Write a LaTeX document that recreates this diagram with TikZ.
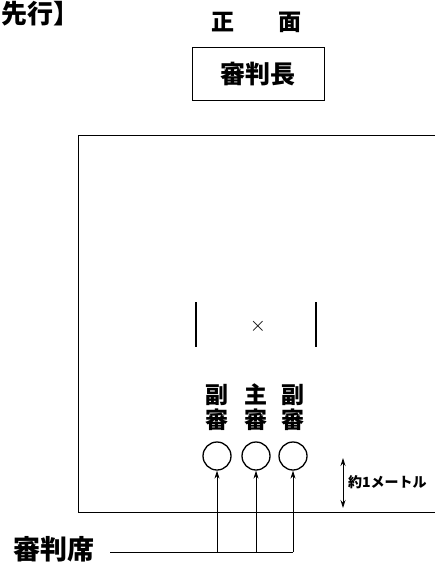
\documentclass[tikz,border=0pt]{standalone}
\usepackage{fontspec}
\newfontfamily\cjk{Noto Sans CJK JP}
\usetikzlibrary{arrows.meta}
\begin{document}
\begin{tikzpicture}[x=1pt,y=-1pt,>={Stealth[length=8pt,width=5pt]}]
    \tikzstyle{jp} = [font=\cjk\bfseries, inner sep=0pt]
    \tikzstyle{seat} = [draw, line width=1.3pt, circle, minimum size=28pt, inner sep=0pt]
    \useasboundingbox (0,0) rectangle (435,567);
    \node[jp, font=\cjk\bfseries\fontsize{26}{26}\selectfont, anchor=north west] (prev) at (1,1) {先行】};
    \node[jp, font=\cjk\bfseries\fontsize{23}{23}\selectfont] (front1) at (223,22) {正};
    \node[jp, font=\cjk\bfseries\fontsize{23}{23}\selectfont] (front2) at (290,22) {面};
    \node[jp, draw, thick, minimum width=132pt, minimum height=53pt,
      font=\cjk\bfseries\fontsize{25}{25}\selectfont] (chief) at (258,74) {審判長};
    % court
    \coordinate (tl) at (78,135);
    \coordinate (tr) at (435,135);
    \coordinate (bl) at (78,512);
    \coordinate (br) at (435,512);
    \draw[thick] (tr) -- (tl) -- (bl) -- (br);
    \draw[line width=2.5pt] (196,302) -- (196,347);
    \draw[line width=2.5pt] (316,302) -- (316,347);
    \node[font=\fontsize{20}{20}\selectfont] (mark) at (258,326) {$\times$};
    % judges
    \foreach \x/\n/\t in {217/l/副,256/m/主,293/r/副}
    {
      \node[jp, font=\cjk\bfseries\fontsize{23}{25}\selectfont, align=center] (lab\n) at (\x,407) {\t\\審};
      \node[seat] (s\n) at (\x,456) {};
    }
    \node[jp, font=\cjk\bfseries\fontsize{27}{27}\selectfont, anchor=west] (seats) at (13,549) {審判席};
    \coordinate (j) at (110,552);
    \draw[thick] (j) -- (293,552);
    \begin{scope}[->,thick]
      \draw (217,552) -- (sl);
      \draw (256,552) -- (sm);
      \draw (293,552) -- (sr);
      \draw[<->] (343,458) -- (343,508);
    \end{scope}
    \node[jp, font=\cjk\bfseries\fontsize{14}{14}\selectfont, anchor=west] (dist) at (348,482) {約1メートル};
\end{tikzpicture}
\end{document}
